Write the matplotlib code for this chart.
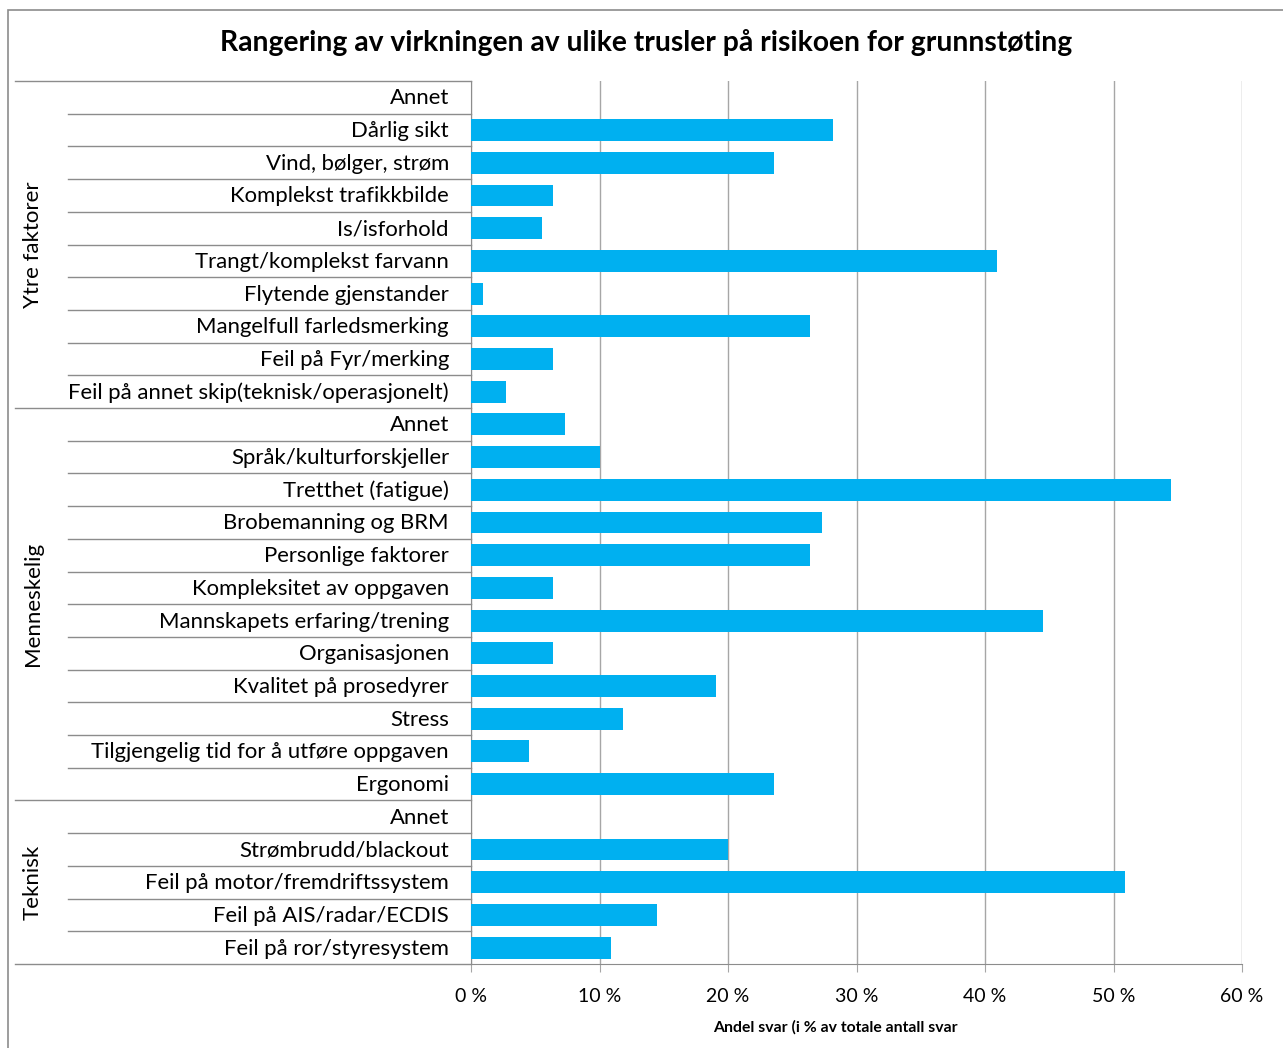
import matplotlib
matplotlib.use("Agg")
import matplotlib.pyplot as plt
from matplotlib.patches import Rectangle
from matplotlib.transforms import blended_transform_factory

plt.rcParams['font.family'] = ['Lato', 'DejaVu Sans']

title = "Rangering av virkningen av ulike trusler på risikoen for grunnstøting"
xlabel = "Andel svar (i % av totale antall svar"

groups = ["Ytre faktorer", "Menneskelig", "Teknisk"]

ytre_labels = ["Annet", "Dårlig sikt", "Vind, bølger, strøm", "Komplekst trafikkbilde",
               "Is/isforhold", "Trangt/komplekst farvann", "Flytende gjenstander",
               "Mangelfull farledsmerking", "Feil på Fyr/merking",
               "Feil på annet skip(teknisk/operasjonelt)"]
ytre_values = [0.0, 28.2, 23.6, 6.4, 5.5, 40.9, 0.9, 26.4, 6.4, 2.7]

menn_labels = ["Annet", "Språk/kulturforskjeller", "Tretthet (fatigue)",
               "Brobemanning og BRM", "Personlige faktorer", "Kompleksitet av oppgaven",
               "Mannskapets erfaring/trening", "Organisasjonen", "Kvalitet på prosedyrer",
               "Stress", "Tilgjengelig tid for å utføre oppgaven", "Ergonomi"]
menn_values = [7.3, 10.0, 54.5, 27.3, 26.4, 6.4, 44.5, 6.4, 19.1, 11.8, 4.5, 23.6]

tek_labels = ["Annet", "Strømbrudd/blackout", "Feil på motor/fremdriftssystem",
              "Feil på AIS/radar/ECDIS", "Feil på ror/styresystem"]
tek_values = [0.0, 20.0, 50.9, 14.5, 10.9]

xticks = [0, 10, 20, 30, 40, 50, 60]
xtick_labels = ["0 %", "10 %", "20 %", "30 %", "40 %", "50 %", "60 %"]

labels = ytre_labels + menn_labels + tek_labels
values = ytre_values + menn_values + tek_values
group_sizes = [len(ytre_labels), len(menn_labels), len(tek_labels)]

W, H = 1283, 1048
fig = plt.figure(figsize=(W / 100, H / 100), dpi=100)
x0, x1, y0, y1 = 471, 1242, 81, 964
ax = fig.add_axes([x0 / W, 1 - y1 / H, (x1 - x0) / W, (y1 - y0) / H])

bar_color = "#00B0F0"
line_gray = "#8C8C8C"
grid_gray = "#A6A6A6"

pos = list(range(len(labels)))
ax.barh(pos, values, height=0.67, color=bar_color, zorder=3)
ax.set_ylim(len(labels) - 0.5, -0.5)
ax.set_xlim(0, 60)

ax.set_xticks(xticks)
ax.set_xticklabels(xtick_labels, fontsize=14)
ax.tick_params(axis='x', length=6, color=grid_gray, pad=11)
ax.set_yticks([])
ax.grid(axis='x', color=grid_gray, linewidth=1, zorder=0)

for s in ["top", "right"]:
    ax.spines[s].set_visible(False)
ax.spines["left"].set_color(line_gray)
ax.spines["bottom"].set_color(line_gray)

# category labels and separator lines in the label column
tr = blended_transform_factory(ax.transAxes, ax.transData)
x_group = (15 - x0) / (x1 - x0)
x_item = (68 - x0) / (x1 - x0)
x_text = (449 - x0) / (x1 - x0)

for i, lab in enumerate(labels):
    ax.text(x_text, i + 0.03, lab, transform=tr, ha="right", va="center",
            fontsize=15.9, clip_on=False)

boundaries = [0]
for n in group_sizes:
    boundaries.append(boundaries[-1] + n)
group_edges = set(boundaries)

for b in range(len(labels) + 1):
    yb = b - 0.5
    xs = x_group if b in group_edges else x_item
    ax.plot([xs, 0], [yb, yb], transform=tr, color=line_gray, lw=1,
            clip_on=False, zorder=2)

for g, name in enumerate(groups):
    mid = (boundaries[g] + boundaries[g + 1] - 1) / 2
    ax.text((33 - x0) / (x1 - x0), mid, name, transform=tr, rotation=90,
            ha="center", va="center", fontsize=16, clip_on=False)

fig.text(646 / W, 1 - 43 / H, title, ha="center", va="center",
         fontsize=20.3, fontweight="bold")
fig.text(835 / W, 1 - 1027 / H, xlabel, ha="center", va="center",
         fontsize=11.3, fontweight="bold")

# outer chart frame
fig.add_artist(Rectangle((7.5 / W, -0.05), 1.2, 1.05 - 10 / H,
                         transform=fig.transFigure, fill=False,
                         edgecolor=line_gray, lw=1.2))

fig.savefig("out.png", dpi=100, facecolor="white")
